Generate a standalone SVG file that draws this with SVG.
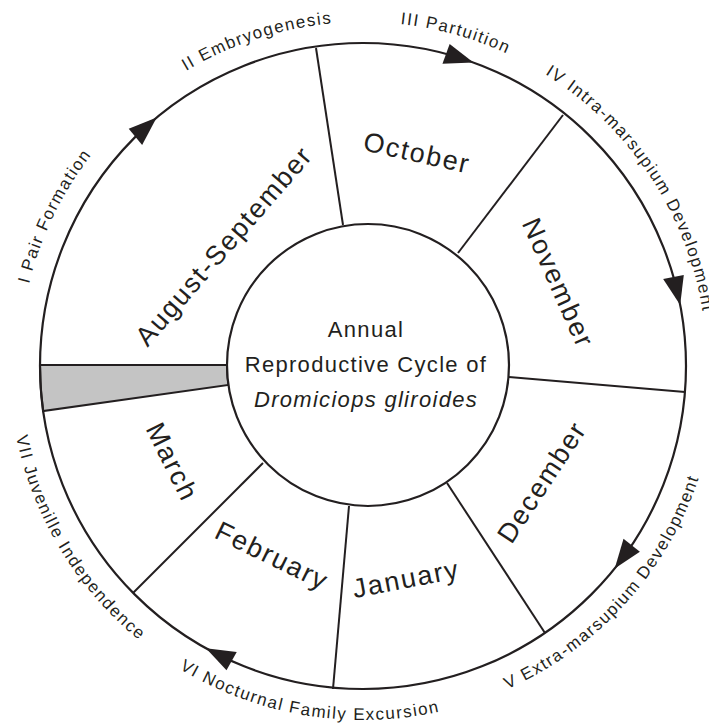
<svg xmlns="http://www.w3.org/2000/svg" width="709" height="727" viewBox="0 0 709 727">
<style>
.ln{fill:none;stroke:#231f20;stroke-width:2}
.ring{fill:none;stroke:#231f20;stroke-width:2.2}
.month{font-family:"Liberation Sans",Arial,sans-serif;font-size:27px;letter-spacing:1.8px;fill:#231f20;text-anchor:middle}
.stage{font-family:"Liberation Sans",Arial,sans-serif;font-size:17px;letter-spacing:1.5px;fill:#231f20}
.title{font-family:"Liberation Sans",Arial,sans-serif;font-size:22px;letter-spacing:1.3px;fill:#231f20;text-anchor:middle}
.arrow{fill:#231f20}
</style>
<defs>
<path id="cw" d="M 19,366 A 344 344 0 1 1 707,366 A 344 344 0 1 1 19,366"/>
<path id="ccw" d="M 9,366 A 354 354 0 1 0 717,366 A 354 354 0 1 0 9,366"/>
<polygon id="arr" class="arrow" points="686,366 674.2,337.3 695.2,337.3"/>
</defs>
<rect width="709" height="727" fill="#ffffff"/>

<g id="gap-band">
<path d="M 40,365 L 227,365 A 141 141 0 0 0 228.4,384.9 L 43.1,411 A 323 323 0 0 1 40,365 Z" fill="#c4c4c4" stroke="#231f20" stroke-width="2"/>
</g>

<g id="outer-ring">
<circle class="ring" cx="363" cy="366" r="323"/>
</g>

<g id="connectors">
<line class="ln" x1="343" y1="225" x2="316" y2="48"/>
<line class="ln" x1="458" y1="253" x2="563" y2="115"/>
<line class="ln" x1="509" y1="377" x2="685" y2="392"/>
<line class="ln" x1="447" y1="483" x2="545" y2="633"/>
<line class="ln" x1="349" y1="506" x2="333" y2="689"/>
<line class="ln" x1="263" y1="463" x2="133" y2="593"/>
<use href="#arr" transform="rotate(230.3 363 366)"/>
<use href="#arr" transform="rotate(290 363 366)"/>
<use href="#arr" transform="rotate(349.1 363 366)"/>
<use href="#arr" transform="rotate(38.8 363 366)"/>
<use href="#arr" transform="rotate(119.1 363 366)"/>
</g>

<g id="center">
<circle cx="368" cy="365" r="141" fill="#ffffff" stroke="#231f20" stroke-width="2.2"/>
<text class="title" x="366" y="337">Annual</text>
<text class="title" x="366" y="372">Reproductive Cycle of</text>
<text class="title" x="366" y="407" font-style="italic">Dromiciops gliroides</text>
</g>

<g id="month-aug-sep"><text class="month" transform="translate(224,246) rotate(-49)" y="9">August-September</text></g>
<g id="month-october"><text class="month" transform="translate(417,153) rotate(12.5)" y="9">October</text></g>
<g id="month-november"><text class="month" transform="translate(558,283) rotate(66)" y="9">November</text></g>
<g id="month-december"><text class="month" transform="translate(542,482) rotate(-56.7)" y="9">December</text></g>
<g id="month-january"><text class="month" transform="translate(406,579) rotate(-11)" y="9">January</text></g>
<g id="month-february"><text class="month" transform="translate(272,556) rotate(26)" y="9">February</text></g>
<g id="month-march"><text class="month" transform="translate(172,462) rotate(63.6)" y="9">March</text></g>

<g id="stage-1"><text class="stage"><textPath href="#cw" startOffset="82.9">I Pair Formation</textPath></text></g>
<g id="stage-2"><text class="stage"><textPath href="#cw" startOffset="354.2">II Embryogenesis</textPath></text></g>
<g id="stage-3"><text class="stage"><textPath href="#cw" startOffset="577.6">III Partuition</textPath></text></g>
<g id="stage-4"><text class="stage"><textPath href="#cw" startOffset="731.9">IV Intra-marsupium Development</textPath></text></g>
<g id="stage-5"><text class="stage"><textPath href="#ccw" startOffset="704.4">V Extra-marsupium Development</textPath></text></g>
<g id="stage-6"><text class="stage"><textPath href="#ccw" startOffset="362.7">VI Nocturnal Family Excursion</textPath></text></g>
<g id="stage-7"><text class="stage"><textPath href="#ccw" startOffset="71.1">VII Juvenille Independence</textPath></text></g>
</svg>
